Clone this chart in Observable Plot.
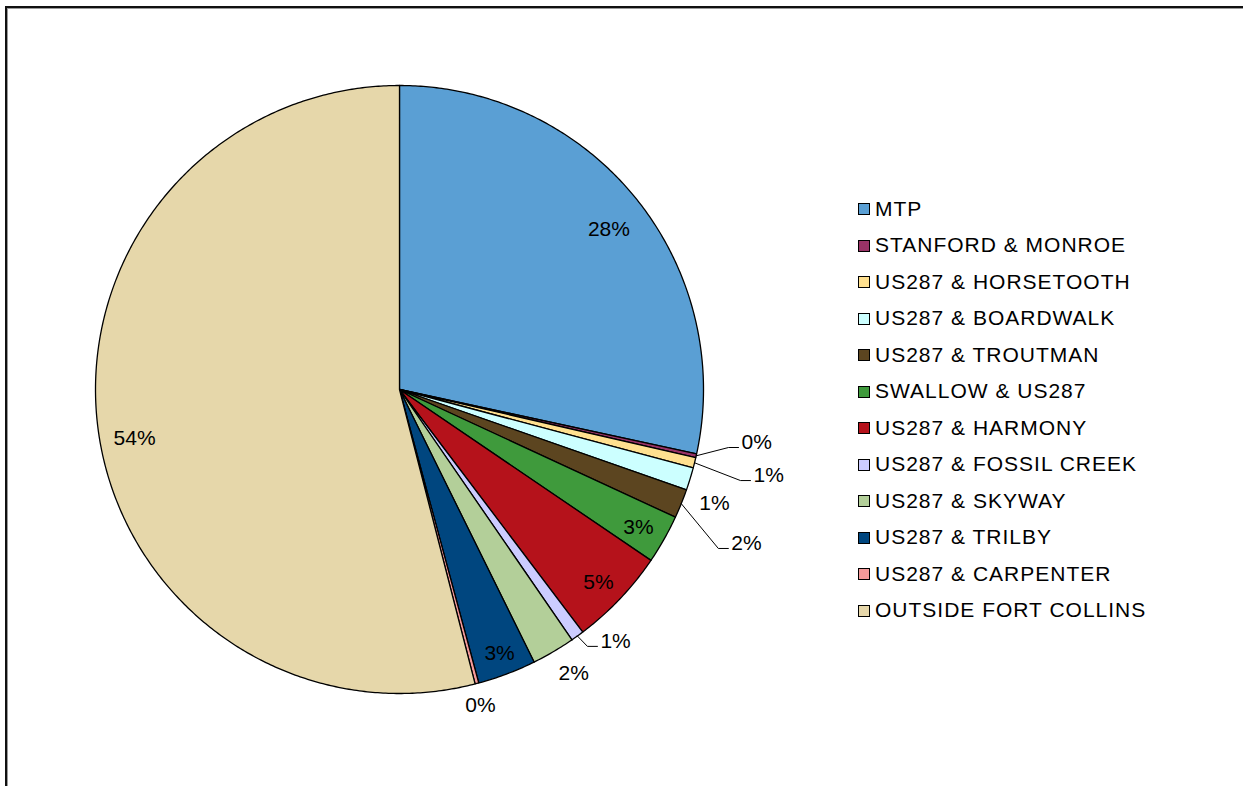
<!DOCTYPE html>
<html>
<head>
<meta charset="utf-8">
<script src="https://cdn.jsdelivr.net/npm/d3@7"></script>
<script src="https://cdn.jsdelivr.net/npm/@observablehq/plot@0.6"></script>
<style>
  html, body { margin: 0; padding: 0; width: 1243px; height: 786px; overflow: hidden; background: #fff; }
  #frame { position: absolute; left: 5px; top: 6px; width: 2000px; height: 2000px;
           border-left: 2px solid #111; border-top: 2px solid #111; box-shadow: inset 1px 1px 0 #9a9a9a; }
  #chart { position: absolute; left: 0; top: 0; }
  #legend { position: absolute; left: 858px; top: 190.75px; font-family: "Liberation Sans", Arial, sans-serif;
            font-size: 21px; letter-spacing: 1px; color: #000; }
  .row { height: 36.5px; line-height: 36.5px; display: flex; align-items: center; white-space: nowrap; }
  .sw { width: 10px; height: 10px; border: 1.5px solid #000; margin-right: 5px; flex: none; }
</style>
</head>
<body>
<div id="frame"></div>
<div id="chart"></div>
<div id="legend"></div>
<script>
// ---- data ----
const categories = [
  "MTP", "STANFORD & MONROE", "US287 & HORSETOOTH", "US287 & BOARDWALK",
  "US287 & TROUTMAN", "SWALLOW & US287", "US287 & HARMONY", "US287 & FOSSIL CREEK",
  "US287 & SKYWAY", "US287 & TRILBY", "US287 & CARPENTER", "OUTSIDE FORT COLLINS"
];
const shares = [28.4, 0.2, 0.55, 1.2, 1.55, 2.6, 5.2, 0.7, 2.3, 3.1, 0.2, 54.0];
const colors = [
  "#5a9fd4", "#993366", "#ffe08f", "#ccffff", "#5c4520", "#3f9a3c",
  "#b5121b", "#ccccff", "#b3cf99", "#00467f", "#f59a9a", "#e6d7aa"
];

// ---- label layout: [mode, angle offset from slice middle (deg), radius factor] ----
const labelLayout = {
  "MTP": ["in", 1.4, 0.868],
  "STANFORD & MONROE": ["leader", -2.6, 1.099],
  "US287 & HORSETOOTH": ["leader", 1.0, 1.161],
  "US287 & BOARDWALK": ["out", 2.8, 1.102],
  "US287 & TROUTMAN": ["leader", 4.45, 1.172],
  "SWALLOW & US287": ["in", 0.5, 0.908],
  "US287 & HARMONY": ["in", 0.5, 0.911],
  "US287 & FOSSIL CREEK": ["leader", -0.37, 1.047],
  "US287 & SKYWAY": ["out", -1.1, 1.096],
  "US287 & TRILBY": ["in", -0.1, 0.927],
  "US287 & CARPENTER": ["out", 0.36, 1.071],
  "OUTSIDE FORT COLLINS": ["in", -3.2, 0.886]
};

// ---- geometry ----
const W = 1243, H = 786, R = 304, cx = 399, cy = 389;
const font = "Liberation Sans, Arial, sans-serif";
const total = d3.sum(shares);
const rad = d => d * Math.PI / 180;
const polar = (deg, r) => ({ x: r * Math.sin(rad(deg)), y: r * Math.cos(rad(deg)) });

let acc = 0;
const slices = categories.map((name, i) => {
  const a0 = acc / total * 360; acc += shares[i];
  const a1 = acc / total * 360;
  return { name, value: shares[i], a0, a1, mid: (a0 + a1) / 2 };
});

const slicePts = slices.flatMap(s => {
  const n = Math.max(2, Math.ceil((s.a1 - s.a0) / 0.5));
  const pts = [{ name: s.name, x: 0, y: 0 }];
  for (let k = 0; k <= n; k++) pts.push({ name: s.name, ...polar(s.a0 + (s.a1 - s.a0) * k / n, 1) });
  return pts;
});

const px = 1 / R; // one pixel in radius units
const midLabels = [], startLabels = [], leaderPts = [];
slices.forEach(s => {
  const [mode, da, rf] = labelLayout[s.name];
  const text = Math.round(s.value) + "%";
  if (mode === "leader") {
    const edge = polar(s.mid, 1);
    const elbow = polar(s.mid + da, rf);
    leaderPts.push({ name: s.name, ...edge }, { name: s.name, ...elbow },
                   { name: s.name, x: elbow.x + 10 * px, y: elbow.y });
    startLabels.push({ text, x: elbow.x + 13 * px, y: elbow.y + 5 * px });
  } else {
    midLabels.push({ text, ...polar(s.mid + da, rf) });
  }
});

const chart = Plot.plot({
  width: W, height: H, margin: 0,
  x: { domain: [-cx / R, (W - cx) / R], axis: null },
  y: { domain: [-(H - cy) / R, cy / R], axis: null },
  color: { domain: categories, range: colors },
  style: { background: "transparent" },
  marks: [
    Plot.line(slicePts, { x: "x", y: "y", z: "name", fill: "name", stroke: "#000",
      strokeWidth: 1.3, strokeLinejoin: "round", curve: "linear-closed" }),
    Plot.line(leaderPts, { x: "x", y: "y", z: "name", stroke: "#000", strokeWidth: 1 }),
    Plot.text(midLabels, { x: "x", y: "y", text: "text", textAnchor: "middle",
      fontSize: 21, fontFamily: font, fill: "#000" }),
    Plot.text(startLabels, { x: "x", y: "y", text: "text", textAnchor: "start",
      fontSize: 21, fontFamily: font, fill: "#000" })
  ]
});
document.getElementById("chart").appendChild(chart);

// ---- legend ----
const legend = document.getElementById("legend");
categories.forEach((name, i) => {
  const row = document.createElement("div");
  row.className = "row";
  const sw = document.createElement("span");
  sw.className = "sw";
  sw.style.background = colors[i];
  const label = document.createElement("span");
  label.textContent = name;
  row.appendChild(sw); row.appendChild(label);
  legend.appendChild(row);
});
</script>
</body>
</html>
